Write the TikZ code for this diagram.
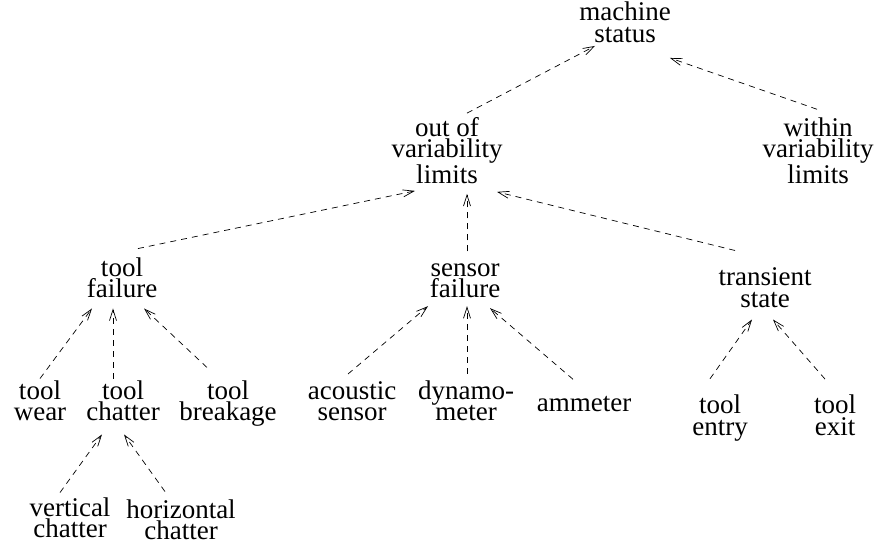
\documentclass[tikz,border=0pt]{standalone}
\usepackage{fontspec}
\setmainfont{Liberation Serif}
\usetikzlibrary{positioning, arrows.meta}
\tikzset{
    item/.style={inner sep=2pt, align=center, font=\fontsize{27}{21.5}\selectfont},
    dep/.style={-{Straight Barb[length=11pt,width=7pt]}, dash pattern=on 6pt off 5pt, line width=0.7pt}
}

\begin{document}
\begin{tikzpicture}[x=1pt, y=-1pt]
\useasboundingbox (0,0) rectangle (877,543);

% Nodes
\node[item] (ms)  at (625,22.5)  {machine\\status};
\node[item] (out) at (447,150.5) {out of\\variability\\limits};
\node[item] (wvl) at (818,150.5) {within\\variability\\limits};

\node[item] (tf) at (122,278)   {tool\\failure};
\node[item] (sf) at (465,280.7) {sensor\\failure};
\node[item] (ts) at (765,287.5) {transient\\state};

\node[item] (tw) at (40,401)    {tool\\wear};
\node[item] (tc) at (123,401)   {tool\\chatter};
\node[item] (tb) at (228,403.7) {tool\\breakage};
\node[item] (as) at (352,401)   {acoustic\\sensor};
\node[item] (dm) at (466,401)   {dynamo-\\meter};
\node[item] (am) at (584,403.7) {ammeter};
\node[item] (te) at (720,418)   {tool\\entry};
\node[item] (tx) at (835,415.5) {tool\\exit};

\node[item] (vc) at (70,518)  {vertical\\chatter};
\node[item] (hc) at (181,520) {horizontal\\chatter};

% Arcs (child points up to parent)
\draw[dep] ([shift={(20,-2)}]out.north) -- ([shift={(-30,1)}]ms.south);
\draw[dep] ([shift={(-1,-6)}]wvl.north) -- ([shift={(-3,13)}]ms.south east);

\draw[dep] ([shift={(16,-7)}]tf.north)  -- ([shift={(-32,5)}]out.south);
\draw[dep] ([shift={(2,-10)}]sf.north)  -- ([shift={(20,8)}]out.south);
\draw[dep] ([shift={(-30,-15)}]ts.north) -- ([shift={(50,6)}]out.south);

\draw[dep] (tw.north) -- ([shift={(-30,8)}]tf.south);
\draw[dep] ([shift={(-10,0)}]tc.north) -- ([shift={(-9,8)}]tf.south);
\draw[dep] ([shift={(-21,-11)}]tb.north) -- ([shift={(22,8)}]tf.south);

\draw[dep] ([shift={(-4,-5)}]as.north) -- ([shift={(-37,6)}]sf.south);
\draw[dep] ([shift={(1,-5)}]dm.north) -- ([shift={(2,6)}]sf.south);
\draw[dep] ([shift={(-11,-14.5)}]am.north) -- ([shift={(25,8)}]sf.south);

\draw[dep] ([shift={(-10,-14)}]te.north) -- ([shift={(-13,10)}]ts.south);
\draw[dep] ([shift={(-10,-14)}]tx.north) -- ([shift={(8,10)}]ts.south);

\draw[dep] ([shift={(-10,-3)}]vc.north) -- ([shift={(-21,11)}]tc.south);
\draw[dep] ([shift={(-16,-6)}]hc.north) -- ([shift={(1,11)}]tc.south);

\end{tikzpicture}
\end{document}
